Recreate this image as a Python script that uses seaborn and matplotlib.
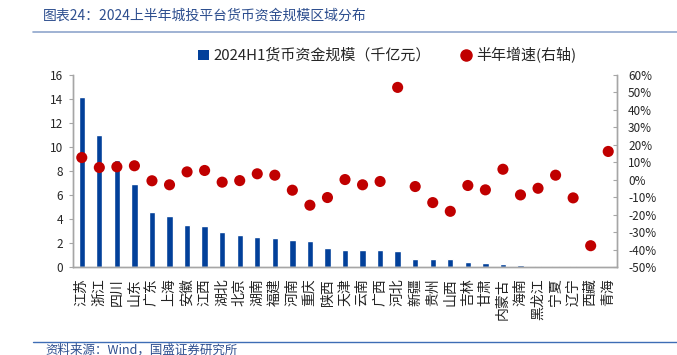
import matplotlib
matplotlib.use("Agg")
import matplotlib.pyplot as plt
import matplotlib.ticker as mticker
from matplotlib.lines import Line2D
from matplotlib.patches import Patch
import numpy as np
import pandas as pd
import seaborn as sns

# 数据：各省份货币资金规模（千亿元）及半年增速（%）
regions = ["江苏", "浙江", "四川", "山东", "广东", "上海", "安徽", "江西", "湖北", "北京",
           "湖南", "福建", "河南", "重庆", "陕西", "天津", "云南", "广西", "河北", "新疆",
           "贵州", "山西", "吉林", "甘肃", "内蒙古", "海南", "黑龙江", "宁夏", "辽宁", "西藏", "青海"]
cash = [14.15, 10.97, 8.9, 6.9, 4.57, 4.29, 3.5, 3.4, 2.88, 2.7,
        2.46, 2.38, 2.28, 2.2, 1.58, 1.44, 1.44, 1.4, 1.33, 0.68,
        0.66, 0.64, 0.45, 0.3, 0.23, 0.15, 0.12, 0.11, 0.08, 0.02, 0.02]
growth = [12.7, 7.0, 7.4, 8.0, -0.6, -2.9, 4.5, 5.3, -1.4, -0.5,
          3.4, 2.6, -6.0, -14.6, -10.2, 0.1, -2.9, -1.0, 52.9, -3.9,
          -13.1, -18.1, -3.3, -5.8, 6.0, -8.7, -4.9, 2.6, -10.4, -37.8, 16.2]

df = pd.DataFrame({"region": regions, "cash": cash, "growth": growth})
df["pos"] = range(len(df))

sns.set_style("white")
plt.rcParams["font.family"] = ["Noto Sans CJK SC", "DejaVu Sans"]
plt.rcParams["axes.unicode_minus"] = False

bar_color = "#02409A"
dot_color = "#C00000"
grey = "#A6A6A6"

fig = plt.figure(figsize=(6.77, 3.55), dpi=100)
ax = fig.add_axes([73 / 677, 1 - 267 / 355, 544 / 677, 192 / 355])

sns.barplot(data=df, x="region", y="cash", color=bar_color, width=0.36,
            saturation=1, ax=ax)
ax.set_ylim(0, 16)
ax.set_yticks(range(0, 17, 2))
ax.set_xlim(-0.5, len(df) - 0.5)
ax.set_xlabel("")
ax.set_ylabel("")
ax.set_xticks(df["pos"])
ax.set_xticklabels(regions, rotation=90, fontsize=10, color="#222222")
ax.tick_params(axis="x", length=0, pad=8)
ax.tick_params(axis="y", labelsize=8.5, length=3, color=grey, direction="out", pad=4)
# 分隔刻度
ax.set_xticks(np.arange(len(df) - 1) + 0.5, minor=True)
ax.tick_params(axis="x", which="minor", length=3, direction="in", color=grey)

ax2 = ax.twinx()
sns.scatterplot(data=df, x="pos", y="growth", color=dot_color, s=64,
                edgecolor="none", ax=ax2, zorder=5)
ax2.set_ylim(-50, 60)
ax2.set_yticks(range(-50, 61, 10))
ax2.yaxis.set_major_formatter(mticker.FuncFormatter(lambda v, p: f"{int(v)}%"))
ax2.set_ylabel("")
ax2.set_xlabel("")
ax2.tick_params(axis="y", labelsize=8.5, length=3, color=grey, direction="in", pad=8)
ax.set_xlim(-0.5, len(df) - 0.5)

for a in (ax, ax2):
    a.spines["top"].set_visible(False)
    for side in ("left", "right", "bottom"):
        a.spines[side].set_color(grey)
        a.spines[side].set_linewidth(1.0)

handles = [Patch(facecolor=bar_color, edgecolor="none"),
           Line2D([], [], marker="o", linestyle="none", color=dot_color, markersize=8)]
fig.legend(handles, ["2024H1货币资金规模（千亿元）", "半年增速(右轴)"],
           loc="center", bbox_to_anchor=(0.572, 1 - 55 / 355), ncol=2, frameon=False,
           fontsize=10.8, handlelength=0.7, handleheight=0.7, handletextpad=0.3,
           columnspacing=2.0)

title_color = "#2E4F8F"
fig.text(43 / 677, 1 - 16 / 355, "图表24：2024上半年城投平台货币资金规模区域分布",
         fontsize=10, color=title_color, style="italic", va="center", ha="left")
fig.add_artist(Line2D([33 / 677, 1.0], [1 - 32 / 355] * 2, color="#8FA6CC", lw=1.2))
fig.add_artist(Line2D([33 / 677, 1.0], [1 - 342 / 355] * 2, color="#3E6DB5", lw=1.0))
fig.text(45 / 677, 1 - 350 / 355, "资料来源：Wind，国盛证券研究所",
         fontsize=9, color=title_color, style="italic", va="center", ha="left")

fig.savefig("out.png", dpi=100)
